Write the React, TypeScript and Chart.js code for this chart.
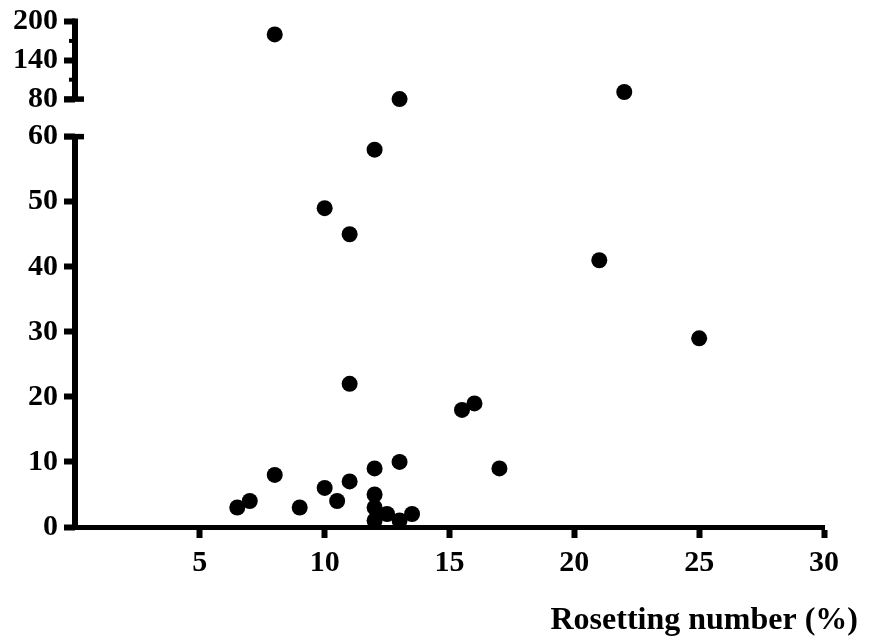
import React, { useEffect, useRef } from "react";
import { Chart, registerables, LinearScale } from "chart.js";

// ---- data ----
const rosettingNumber: number[] = [8, 13, 22, 12, 10, 11, 21, 25, 11, 15.5, 16, 17, 8, 13, 12, 11, 10, 10.5, 7, 6.5, 9, 12, 12, 12.5, 12, 13, 13.5];
const yValues: number[] = [180, 80, 91, 58, 49, 45, 41, 29, 22, 18, 19, 9, 8, 10, 9, 7, 6, 4, 4, 3, 3, 5, 3, 2, 1, 1, 2];
const xTicks: number[] = [5, 10, 15, 20, 25, 30];
const yTicks: number[] = [0, 10, 20, 30, 40, 50, 60, 80, 140, 200];
const yMinorTicks: number[] = [110, 170];
const xTitle = "Rosetting number (%)";

// ---- broken axis definition ----
const LOWER_MAX = 60;
const UPPER_MIN = 80;
const UPPER_MAX = 200;
const GAP = 5.77;
const UPPER_FACTOR = 0.0994;

function toDisplay(v: number): number {
  if (v <= LOWER_MAX) return v;
  if (v >= UPPER_MIN) return LOWER_MAX + GAP + (v - UPPER_MIN) * UPPER_FACTOR;
  return LOWER_MAX + ((v - LOWER_MAX) / (UPPER_MIN - LOWER_MAX)) * GAP;
}
function fromDisplay(d: number): number {
  if (d <= LOWER_MAX) return d;
  if (d >= LOWER_MAX + GAP) return UPPER_MIN + (d - LOWER_MAX - GAP) / UPPER_FACTOR;
  return LOWER_MAX + ((d - LOWER_MAX) / GAP) * (UPPER_MIN - LOWER_MAX);
}
const DISPLAY_MAX = toDisplay(UPPER_MAX);

class BrokenScale extends (LinearScale as any) {
  static id = "broken";
  static defaults = (LinearScale as any).defaults;
  getPixelForValue(value: number) {
    return (this as any).getPixelForDecimal(toDisplay(value) / DISPLAY_MAX);
  }
  getValueForPixel(pixel: number) {
    return fromDisplay((this as any).getDecimalForPixel(pixel) * DISPLAY_MAX);
  }
}

Chart.register(...registerables);
Chart.register(BrokenScale as any);

const FONT = '"Liberation Serif", "Times New Roman", serif';

const axisPlugin = {
  id: "brokenAxis",
  afterDraw(chart: any) {
    const ctx = chart.ctx;
    const y = chart.scales.y;
    const ax = chart.chartArea.left;
    ctx.save();
    ctx.strokeStyle = "#000";
    ctx.lineCap = "butt";
    // lower segment
    ctx.lineWidth = 6;
    ctx.beginPath();
    ctx.moveTo(ax, y.getPixelForValue(0));
    ctx.lineTo(ax, y.getPixelForValue(LOWER_MAX));
    ctx.stroke();
    // upper segment
    ctx.beginPath();
    ctx.moveTo(ax, y.getPixelForValue(UPPER_MIN));
    ctx.lineTo(ax, y.getPixelForValue(UPPER_MAX) - 3);
    ctx.stroke();
    // break caps
    ctx.lineWidth = 5.5;
    [LOWER_MAX, UPPER_MIN].forEach((v) => {
      const py = y.getPixelForValue(v);
      ctx.beginPath();
      ctx.moveTo(ax - 11, py);
      ctx.lineTo(ax + 9, py);
      ctx.stroke();
    });
    // minor ticks
    ctx.lineWidth = 4;
    yMinorTicks.forEach((v) => {
      const py = y.getPixelForValue(v);
      ctx.beginPath();
      ctx.moveTo(ax - 6, py);
      ctx.lineTo(ax, py);
      ctx.stroke();
    });
    // x title
    ctx.fillStyle = "#000";
    ctx.font = `bold 32px ${FONT}`;
    ctx.textAlign = "right";
    ctx.textBaseline = "alphabetic";
    ctx.fillText(xTitle, 858, 629);
    ctx.restore();
  },
};

export default function App() {
  const canvasRef = useRef<HTMLCanvasElement | null>(null);

  useEffect(() => {
    if (!canvasRef.current) return;
    const data = rosettingNumber.map((x, i) => ({ x, y: yValues[i] }));
    const chart = new Chart(canvasRef.current, {
      type: "scatter",
      data: {
        datasets: [
          {
            data,
            backgroundColor: "#000",
            borderColor: "#000",
            borderWidth: 0,
            pointRadius: 8,
            pointHoverRadius: 8,
          },
        ],
      },
      options: {
        animation: false,
        responsive: true,
        maintainAspectRatio: false,
        events: [],
        layout: { padding: { top: 21.5, right: 55, bottom: 0, left: 0 } },
        plugins: { legend: { display: false }, tooltip: { enabled: false } },
        scales: {
          x: {
            type: "linear",
            min: 0,
            max: 30,
            afterBuildTicks: (scale: any) => {
              scale.ticks = xTicks.map((value) => ({ value }));
            },
            afterFit: (scale: any) => {
              scale.height = 117;
              scale.paddingLeft = 0;
              scale.paddingRight = 0;
            },
            border: { display: true, width: 5, color: "#000" },
            grid: {
              display: true,
              drawOnChartArea: false,
              drawTicks: true,
              tickLength: 11,
              tickWidth: 6,
              tickColor: "#000",
              color: "#000",
            },
            ticks: {
              autoSkip: false,
              maxRotation: 0,
              padding: 7,
              color: "#000",
              font: { family: FONT, size: 30, weight: "bold" },
              callback: (v: any) => String(v),
            },
          },
          y: {
            type: "broken" as any,
            min: 0,
            max: UPPER_MAX,
            afterBuildTicks: (scale: any) => {
              scale.ticks = yTicks.map((value) => ({ value }));
            },
            afterFit: (scale: any) => {
              scale.width = 75;
              scale.paddingTop = 0;
              scale.paddingBottom = 0;
            },
            border: { display: false },
            grid: {
              display: true,
              drawOnChartArea: false,
              drawTicks: true,
              tickLength: 11,
              tickWidth: 6,
              tickColor: "#000",
              color: "#000",
            },
            ticks: {
              autoSkip: false,
              padding: 6,
              color: "#000",
              font: { family: FONT, size: 30, weight: "bold" },
              callback: (v: any) => String(v),
            },
          } as any,
        },
      },
      plugins: [axisPlugin],
    } as any);
    return () => chart.destroy();
  }, []);

  return (
    <div style={{ position: "fixed", left: 0, top: 0, width: 879, height: 644, background: "#fff" }}>
      <canvas ref={canvasRef} />
    </div>
  );
}
